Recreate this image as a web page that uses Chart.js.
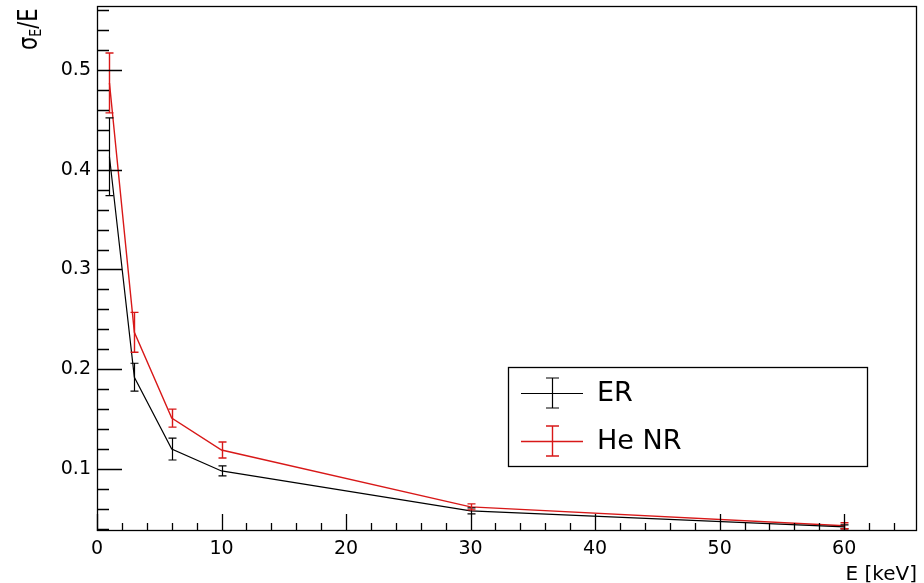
<!DOCTYPE html>
<html>
<head>
<meta charset="utf-8">
<script src="https://cdn.jsdelivr.net/npm/chart.js@4.4.1/dist/chart.umd.min.js"></script>
<style>
	html, body { margin: 0; padding: 0; background: #fff; }
	#wrap { width: 924px; height: 583px; }
</style>
</head>
<body>
<div id="wrap"><canvas id="myChart" width="924" height="583"></canvas></div>
<script>
// data
const energy = [1, 3, 6, 10, 30, 60];
const erRes = [0.413, 0.192, 0.120, 0.098, 0.058, 0.042];
const erErr = [0.039, 0.014, 0.011, 0.005, 0.003, 0.002];
const heRes = [0.487, 0.237, 0.151, 0.119, 0.062, 0.043];
const heErr = [0.030, 0.020, 0.009, 0.008, 0.003, 0.003];
const xTicks = [0, 10, 20, 30, 40, 50, 60];
const yTicks = [0.1, 0.2, 0.3, 0.4, 0.5];

const RED = "#d81818";
const FONT = "DejaVu Sans";

function points(xs, ys) {
	let out = [];
	for (let i = 0; i < xs.length; i++) {
		out.push({ x: xs[i], y: ys[i] });
	}
	return out;
}

// error bars with small caps
const errorBars = {
	id: "errorBars",
	afterDatasetsDraw(chart) {
		const ctx = chart.ctx;
		const xs = chart.scales.x;
		const ys = chart.scales.y;
		chart.data.datasets.forEach(function(ds) {
			ctx.save();
			ctx.strokeStyle = ds.borderColor;
			ctx.lineWidth = ds.borderWidth;
			for (let i = 0; i < ds.data.length; i++) {
				let p = ds.data[i];
				let px = Math.round(xs.getPixelForValue(p.x)) + 0.5;
				let top = ys.getPixelForValue(p.y + ds.errors[i]);
				let bot = ys.getPixelForValue(p.y - ds.errors[i]);
				ctx.beginPath();
				ctx.moveTo(px, top);
				ctx.lineTo(px, bot);
				ctx.moveTo(px - 4, top);
				ctx.lineTo(px + 4, top);
				ctx.moveTo(px - 4, bot);
				ctx.lineTo(px + 4, bot);
				ctx.stroke();
			}
			ctx.restore();
		});
	}
};

// frame, inward ticks, legend, axis titles (ROOT look)
const rootFrame = {
	id: "rootFrame",
	afterDraw(chart) {
		const ctx = chart.ctx;
		const a = chart.chartArea;
		const xs = chart.scales.x;
		const ys = chart.scales.y;

		ctx.save();
		ctx.strokeStyle = "#000";
		ctx.lineWidth = 1.3;
		ctx.strokeRect(a.left + 0.5, a.top + 0.5, a.right - a.left - 1, a.bottom - a.top - 1);

		// y ticks
		ctx.beginPath();
		for (let v = 0.04; v < ys.max; v += 0.02) {
			let py = Math.round(ys.getPixelForValue(v)) + 0.5;
			let major = Math.abs(v * 10 - Math.round(v * 10)) < 1e-6;
			ctx.moveTo(a.left, py);
			ctx.lineTo(a.left + (major ? 25 : 12), py);
		}
		// x ticks
		for (let v = 0; v < xs.max; v += 2) {
			let px = Math.round(xs.getPixelForValue(v)) + 0.5;
			let major = v % 10 === 0;
			ctx.moveTo(px, a.bottom);
			ctx.lineTo(px, a.bottom - (major ? 17 : 8));
		}
		ctx.stroke();

		// legend
		let lx = a.left + 411, ly = a.top + 361;
		let lw = 359, lh = 99;
		ctx.lineWidth = 1.3;
		ctx.strokeRect(lx + 0.5, ly + 0.5, lw, lh);
		let entries = chart.data.datasets;
		for (let i = 0; i < entries.length; i++) {
			let cy = ly + 26 + i * 48;
			let cx = lx + 44;
			ctx.strokeStyle = entries[i].borderColor;
			ctx.lineWidth = entries[i].borderWidth;
			ctx.beginPath();
			ctx.moveTo(lx + 13, cy + 0.5);
			ctx.lineTo(lx + 75, cy + 0.5);
			ctx.moveTo(cx + 0.5, cy - 15);
			ctx.lineTo(cx + 0.5, cy + 15);
			ctx.moveTo(cx - 6, cy - 15);
			ctx.lineTo(cx + 7, cy - 15);
			ctx.moveTo(cx - 6, cy + 15);
			ctx.lineTo(cx + 7, cy + 15);
			ctx.stroke();
			ctx.fillStyle = "#000";
			ctx.font = "27px '" + FONT + "'";
			ctx.textAlign = "left";
			ctx.textBaseline = "middle";
			ctx.fillText(entries[i].label, lx + 89, cy + 1);
		}

		// x title
		ctx.fillStyle = "#000";
		ctx.font = "20px '" + FONT + "'";
		ctx.textAlign = "right";
		ctx.textBaseline = "alphabetic";
		ctx.fillText("E [keV]", a.right, 580);

		// y title: sigma_E / E, rotated
		ctx.translate(37, 50);
		ctx.rotate(-Math.PI / 2);
		ctx.scale(1.05, 1.3);
		ctx.textAlign = "left";
		let x0 = 0;
		ctx.font = "20px '" + FONT + "'";
		ctx.fillText("σ", x0, 0);
		x0 += ctx.measureText("σ").width;
		ctx.font = "12px '" + FONT + "'";
		ctx.fillText("E", x0, 3);
		x0 += ctx.measureText("E").width;
		ctx.font = "20px '" + FONT + "'";
		ctx.fillText("/E", x0, 0);
		ctx.restore();
	}
};

const ctx = document.getElementById("myChart");

new Chart(ctx, {
	type: "line",
	data: {
		datasets: [
			{
				label: "ER",
				data: points(energy, erRes),
				errors: erErr,
				borderColor: "#000",
				borderWidth: 1.2,
				pointRadius: 0,
				tension: 0,
				fill: false
			},
			{
				label: "He NR",
				data: points(energy, heRes),
				errors: heErr,
				borderColor: RED,
				borderWidth: 1.4,
				pointRadius: 0,
				tension: 0,
				fill: false
			}
		]
	},
	options: {
		responsive: false,
		animation: false,
		devicePixelRatio: 1,
		layout: { padding: { top: 6, right: 7, left: 0, bottom: 0 } },
		plugins: {
			legend: { display: false },
			tooltip: { enabled: false }
		},
		scales: {
			x: {
				type: "linear",
				min: 0,
				max: 65.85,
				grid: { display: false, drawTicks: false },
				border: { display: false },
				afterBuildTicks: function(scale) {
					scale.ticks = xTicks.map(function(v) { return { value: v }; });
				},
				afterFit: function(scale) {
					scale.height = 52;
					scale.paddingLeft = 0;
					scale.paddingRight = 0;
				},
				ticks: {
					padding: 7,
					color: "#000",
					font: { family: FONT, size: 19 },
					maxRotation: 0,
					callback: function(v) { return String(v); }
				}
			},
			y: {
				type: "linear",
				min: 0.0378,
				max: 0.5642,
				grid: { display: false, drawTicks: false },
				border: { display: false },
				afterBuildTicks: function(scale) {
					scale.ticks = yTicks.map(function(v) { return { value: v }; });
				},
				afterFit: function(scale) {
					scale.width = 97;
					scale.paddingTop = 0;
					scale.paddingBottom = 0;
				},
				ticks: {
					padding: 6,
					color: "#000",
					font: { family: FONT, size: 19 },
					callback: function(v) { return v.toFixed(1); }
				}
			}
		}
	},
	plugins: [errorBars, rootFrame]
});
</script>
</body>
</html>
